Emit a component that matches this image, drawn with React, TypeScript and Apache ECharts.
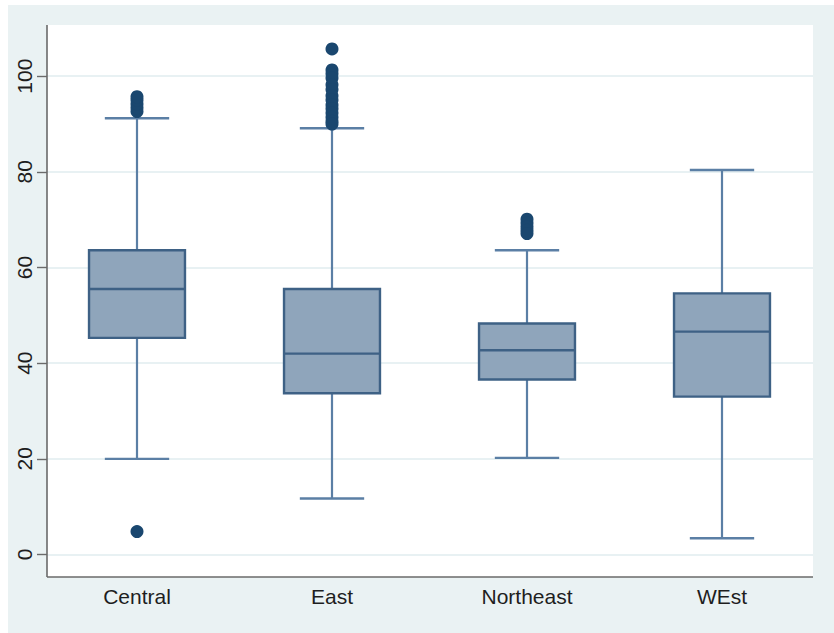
import React, { useEffect, useRef } from "react";
import * as echarts from "echarts";

const categories = ["Central", "East", "Northeast", "WEst"];
const lowWhisker = [20.0, 11.7, 20.2, 3.4];
const q1 = [45.3, 33.7, 36.6, 33.0];
const median = [55.5, 42.0, 42.7, 46.6];
const q3 = [63.6, 55.5, 48.3, 54.6];
const highWhisker = [91.2, 89.1, 63.6, 80.4];

const outlierCat = [
  0, 0, 0, 0, 0, 0,
  1, 1, 1, 1, 1, 1, 1, 1, 1, 1, 1, 1, 1, 1,
  2, 2, 2, 2, 2,
];
const outlierVal = [
  4.8, 92.6, 93.4, 94.2, 95.0, 95.7,
  105.7, 101.3, 100.5, 99.6, 98.2, 97.2, 95.9, 95.0, 94.0, 93.2, 92.3, 91.4, 90.6, 90.0,
  70.1, 69.3, 68.5, 67.8, 67.1,
];

const yTicks = [0, 20, 40, 60, 80, 100];

const Y_MIN = -4.7;
const Y_MAX = 110.7;
const PLOT_TOP = 25;
const PLOT_H = 552;
const PLOT_LEFT = 47;
const PLOT_RIGHT = 813;

export default function App() {
  const ref = useRef<HTMLDivElement>(null);

  useEffect(() => {
    if (!ref.current) return;
    const chart = echarts.init(ref.current, undefined, { renderer: "svg" });

    const boxData = categories.map((_, i) => [
      i,
      lowWhisker[i],
      q1[i],
      median[i],
      q3[i],
      highWhisker[i],
    ]);
    const outData = outlierCat.map((c, i) => [c, outlierVal[i]]);

    const span = Y_MAX - Y_MIN;
    const tickTop = PLOT_TOP + ((Y_MAX - yTicks[yTicks.length - 1]) / span) * PLOT_H;
    const tickH = ((yTicks[yTicks.length - 1] - yTicks[0]) / span) * PLOT_H;

    const boxFill = "#8fa5bb";
    const boxBorder = "#3e6185";
    const whisker = "#5b7fa5";

    chart.setOption({
      animation: false,
      backgroundColor: "#ffffff",
      graphic: [
        {
          type: "rect",
          z: -20,
          silent: true,
          shape: { x: 8, y: 5, width: 826, height: 628 },
          style: { fill: "#eaf2f3" },
        },
        {
          type: "rect",
          z: -19,
          silent: true,
          shape: { x: PLOT_LEFT, y: PLOT_TOP, width: PLOT_RIGHT - PLOT_LEFT, height: PLOT_H },
          style: { fill: "#ffffff" },
        },
        {
          type: "line",
          z: 50,
          silent: true,
          shape: { x1: PLOT_LEFT, y1: PLOT_TOP, x2: PLOT_LEFT, y2: PLOT_TOP + PLOT_H },
          style: { stroke: "#6a6a6a", lineWidth: 1.6 },
        },
        {
          type: "line",
          z: 50,
          silent: true,
          shape: { x1: PLOT_LEFT, y1: PLOT_TOP + PLOT_H, x2: PLOT_RIGHT, y2: PLOT_TOP + PLOT_H },
          style: { stroke: "#6a6a6a", lineWidth: 1.6 },
        },
      ],
      grid: [
        { left: 39.5, width: 780, top: PLOT_TOP, height: PLOT_H, containLabel: false },
        { left: PLOT_LEFT, width: PLOT_RIGHT - PLOT_LEFT, top: tickTop, height: tickH, containLabel: false },
      ],
      xAxis: [
        {
          type: "category",
          gridIndex: 0,
          data: categories,
          boundaryGap: true,
          axisLine: { show: false },
          axisTick: { show: false },
          splitLine: { show: false },
          axisLabel: {
            fontFamily: "Liberation Sans, Arial, sans-serif",
            fontSize: 21,
            color: "#1e1e1e",
            margin: 9,
          },
        },
        {
          type: "value",
          gridIndex: 1,
          show: false,
        },
      ],
      yAxis: [
        {
          type: "value",
          gridIndex: 0,
          min: Y_MIN,
          max: Y_MAX,
          show: false,
          splitLine: { show: false },
        },
        {
          type: "value",
          gridIndex: 1,
          min: 0,
          max: 100,
          interval: 20,
          axisLine: { show: false },
          axisTick: { show: true, length: 10, lineStyle: { color: "#6a6a6a", width: 1.4 } },
          splitLine: { show: true, lineStyle: { color: "#e8f1f3", width: 2 } },
          axisLabel: {
            rotate: 90,
            fontFamily: "Liberation Sans, Arial, sans-serif",
            fontSize: 21,
            color: "#1e1e1e",
            margin: 12,
          },
        },
      ],
      series: [
        {
          type: "custom",
          xAxisIndex: 0,
          yAxisIndex: 0,
          data: boxData,
          encode: { x: 0, y: [1, 2, 3, 4, 5] },
          z: 3,
          renderItem: (params: any, api: any) => {
            const x = api.value(0);
            const lo = api.coord([x, api.value(1)]);
            const a = api.coord([x, api.value(2)]);
            const m = api.coord([x, api.value(3)]);
            const b = api.coord([x, api.value(4)]);
            const hi = api.coord([x, api.value(5)]);
            const band = api.size([1, 0])[0];
            const bw = band * 0.492;
            const cw = band * 0.33;
            const cx = lo[0];
            return {
              type: "group",
              children: [
                {
                  type: "line",
                  shape: { x1: cx, y1: b[1], x2: cx, y2: hi[1] },
                  style: { stroke: whisker, lineWidth: 2.2 },
                },
                {
                  type: "line",
                  shape: { x1: cx, y1: a[1], x2: cx, y2: lo[1] },
                  style: { stroke: whisker, lineWidth: 2.2 },
                },
                {
                  type: "line",
                  shape: { x1: cx - cw / 2, y1: hi[1], x2: cx + cw / 2, y2: hi[1] },
                  style: { stroke: whisker, lineWidth: 2.4 },
                },
                {
                  type: "line",
                  shape: { x1: cx - cw / 2, y1: lo[1], x2: cx + cw / 2, y2: lo[1] },
                  style: { stroke: whisker, lineWidth: 2.4 },
                },
                {
                  type: "rect",
                  shape: { x: cx - bw / 2, y: b[1], width: bw, height: a[1] - b[1] },
                  style: { fill: boxFill, stroke: boxBorder, lineWidth: 2.4 },
                },
                {
                  type: "line",
                  shape: { x1: cx - bw / 2, y1: m[1], x2: cx + bw / 2, y2: m[1] },
                  style: { stroke: boxBorder, lineWidth: 2.4 },
                },
              ],
            };
          },
        },
        {
          type: "scatter",
          xAxisIndex: 0,
          yAxisIndex: 0,
          data: outData,
          symbol: "circle",
          symbolSize: 13,
          z: 4,
          itemStyle: { color: "#1a476f", opacity: 1 },
        },
      ],
    });

    return () => chart.dispose();
  }, []);

  return (
    <div
      ref={ref}
      style={{ position: "absolute", left: 0, top: 0, width: 834, height: 633 }}
    />
  );
}
